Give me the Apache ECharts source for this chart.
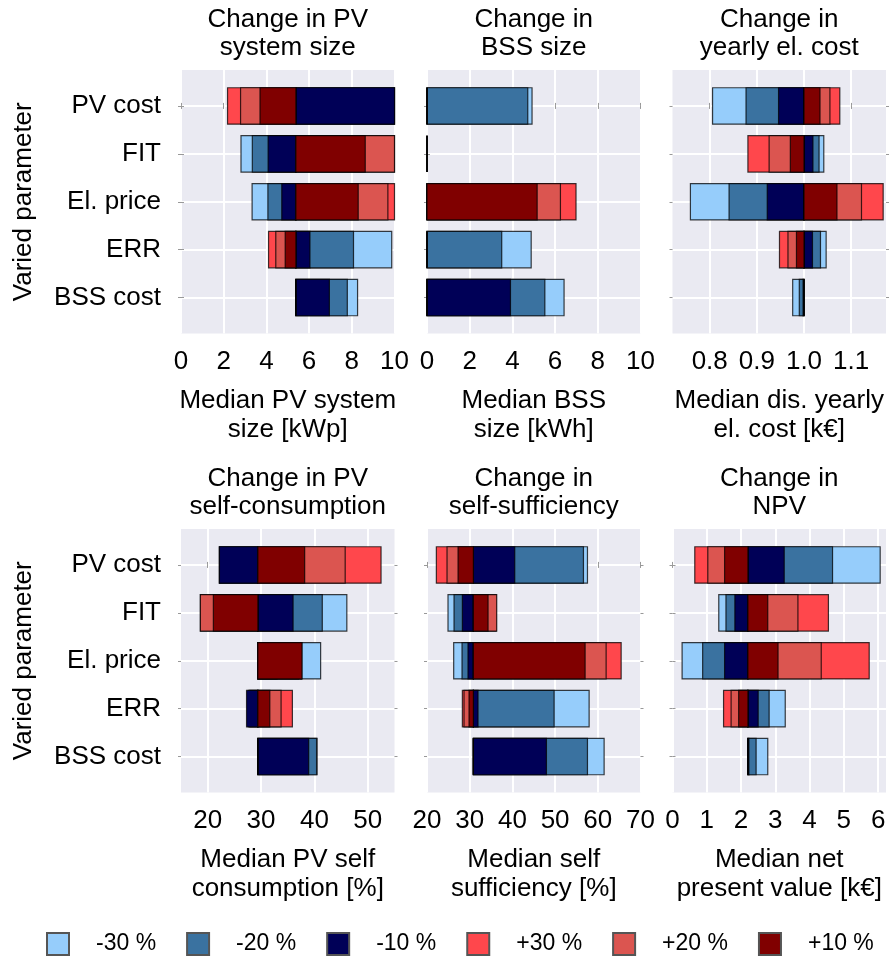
<!DOCTYPE html>
<html>
<head>
<meta charset="utf-8">
<script src="https://cdn.jsdelivr.net/npm/echarts@6/dist/echarts.min.js"></script>
<style>
html, body { margin: 0; padding: 0; background: #fff; }
#chart { width: 889px; height: 958px; }
</style>
</head>
<body>
<div id="chart"></div>
<script>
var categories = ['PV cost', 'FIT', 'El. price', 'ERR', 'BSS cost'];
var variations = ['-30 %', '-20 %', '-10 %', '+30 %', '+20 %', '+10 %'];
var colors = ['#96CDFB', '#3A72A0', '#000057', '#FF474C', '#DB5550', '#800000'];

/* PV system size [kWp] */
var pvSizeBase = 5.38;
var pvSizeM30 = [13.5, 2.81, 3.33, 9.87, 8.27];
var pvSizeM20 = [12.0, 3.34, 4.07, 8.08, 7.79];
var pvSizeM10 = [10.8, 4.08, 4.72, 6.04, 6.95];
var pvSizeP30 = [2.18, 11.2, 10.0, 4.10, 5.38];
var pvSizeP20 = [2.79, 10.6, 9.69, 4.44, 5.38];
var pvSizeP10 = [3.70, 8.63, 8.30, 4.88, 5.38];

/* BSS size [kWh] */
var bssSizeBase = 0;
var bssSizeM30 = [4.92, 0, 0, 4.88, 6.42];
var bssSizeM20 = [4.72, 0, 0, 3.50, 5.52];
var bssSizeM10 = [0, 0, 0, 0, 3.91];
var bssSizeP30 = [0, 0, 6.98, 0, 0];
var bssSizeP20 = [0, 0, 6.25, 0, 0];
var bssSizeP10 = [0, 0, 5.16, 0, 0];

/* discounted yearly el. cost [k€] */
var elCostBase = 1.0;
var elCostM30 = [0.806, 1.042, 0.759, 1.047, 0.976];
var elCostM20 = [0.877, 1.032, 0.841, 1.035, 0.990];
var elCostM10 = [0.946, 1.019, 0.922, 1.018, 0.998];
var elCostP30 = [1.076, 0.881, 1.168, 0.948, 1.0];
var elCostP20 = [1.055, 0.926, 1.122, 0.966, 1.0];
var elCostP10 = [1.034, 0.971, 1.070, 0.984, 1.0];

/* PV self consumption [%] */
var selfConsBase = 29.4;
var selfConsM30 = [22.2, 46.07, 41.16, 27.9, 40.5];
var selfConsM20 = [22.2, 41.47, 37.0, 27.6, 40.4];
var selfConsM10 = [22.2, 36.0, 33.0, 27.28, 38.92];
var selfConsP30 = [52.48, 18.63, 37.6, 35.87, 29.4];
var selfConsP20 = [45.76, 18.63, 37.6, 33.75, 29.4];
var selfConsP10 = [38.17, 21.06, 37.67, 31.64, 29.4];

/* self sufficiency [%] */
var selfSuffBase = 30.86;
var selfSuffM30 = [57.58, 24.92, 26.25, 57.97, 61.48];
var selfSuffM20 = [56.64, 26.33, 28.2, 49.77, 57.58];
var selfSuffM10 = [40.55, 28.28, 29.6, 31.95, 47.97];
var selfSuffP30 = [22.19, 36.2, 65.47, 28.28, 30.86];
var selfSuffP20 = [24.69, 36.33, 61.95, 28.67, 30.86];
var selfSuffP10 = [27.27, 34.3, 57.03, 29.84, 30.86];

/* net present value [k€] */
var npvBase = 2.20;
var npvM30 = [6.06, 1.35, 0.28, 3.29, 2.78];
var npvM20 = [4.67, 1.56, 0.88, 2.82, 2.44];
var npvM10 = [3.26, 1.82, 1.52, 2.50, 2.23];
var npvP30 = [0.65, 4.55, 5.74, 1.49, 2.20];
var npvP20 = [1.03, 3.66, 4.34, 1.71, 2.20];
var npvP10 = [1.52, 2.78, 3.08, 1.93, 2.20];

/* axes */
var pvSizeTicks = [0, 2, 4, 6, 8, 10];
var bssSizeTicks = [0, 2, 4, 6, 8, 10];
var elCostTicks = [0.8, 0.9, 1.0, 1.1];
var selfConsTicks = [20, 30, 40, 50];
var selfSuffTicks = [20, 30, 40, 50, 60, 70];
var npvTicks = [0, 1, 2, 3, 4, 5, 6];
var catIndex = [0, 1, 2, 3, 4];

var panels = [
    {title: 'Change in PV\nsystem size', name: 'Median PV system\nsize [kWp]', base: pvSizeBase,
        values: [pvSizeM30, pvSizeM20, pvSizeM10, pvSizeP30, pvSizeP20, pvSizeP10],
        min: 0, max: 10, ticks: pvSizeTicks, digits: 0},
    {title: 'Change in\nBSS size', name: 'Median BSS\nsize [kWh]', base: bssSizeBase,
        values: [bssSizeM30, bssSizeM20, bssSizeM10, bssSizeP30, bssSizeP20, bssSizeP10],
        min: 0, max: 10, ticks: bssSizeTicks, digits: 0},
    {title: 'Change in\nyearly el. cost', name: 'Median dis. yearly\nel. cost [k€]', base: elCostBase,
        values: [elCostM30, elCostM20, elCostM10, elCostP30, elCostP20, elCostP10],
        min: 0.721, max: 1.174, ticks: elCostTicks, digits: 1},
    {title: 'Change in PV\nself-consumption', name: 'Median PV self\nconsumption [%]', base: selfConsBase,
        values: [selfConsM30, selfConsM20, selfConsM10, selfConsP30, selfConsP20, selfConsP10],
        min: 15, max: 55, ticks: selfConsTicks, digits: 0},
    {title: 'Change in\nself-sufficiency', name: 'Median self\nsufficiency [%]', base: selfSuffBase,
        values: [selfSuffM30, selfSuffM20, selfSuffM10, selfSuffP30, selfSuffP20, selfSuffP10],
        min: 20, max: 70, ticks: selfSuffTicks, digits: 0},
    {title: 'Change in\nNPV', name: 'Median net\npresent value [k€]', base: npvBase,
        values: [npvM30, npvM20, npvM10, npvP30, npvP20, npvP10],
        min: 0, max: 6.23, ticks: npvTicks, digits: 0}
];

var FONT = 'Liberation Sans, Arial, sans-serif';
var colLeft = [181, 427, 672.5];
var plotW = 213.5;
var rowTop = [70, 529];
var plotH = 263.5;
var barH = 0.76;

function renderBar(params, api) {
    var y = api.value(0);
    var p0 = api.coord([api.value(1), y]);
    var p1 = api.coord([api.value(2), y]);
    var h = api.size([0, barH])[1];
    var cs = params.coordSys;
    var rect = echarts.graphic.clipRectByRect({
        x: Math.min(p0[0], p1[0]),
        y: p0[1] - h / 2,
        width: Math.abs(p1[0] - p0[0]),
        height: h
    }, {x: cs.x, y: cs.y, width: cs.width, height: cs.height});
    if (!rect) return;
    return {
        type: 'rect',
        shape: rect,
        style: {fill: api.visual('color'), stroke: 'rgba(0,0,0,0.75)', lineWidth: 1.2}
    };
}

var grids = [], xAxes = [], yAxes = [], series = [], texts = [];
var tickStyle = {color: '#999', width: 1};

panels.forEach(function (p, k) {
    var col = k % 3, row = Math.floor(k / 3);
    var left = colLeft[col], top = rowTop[row];
    grids.push({left: left, top: top, width: plotW, height: plotH, show: true,
        backgroundColor: '#EAEAF2', borderWidth: 0});

    xAxes.push({gridIndex: k, type: 'value', position: 'bottom', min: p.min, max: p.max,
        axisLine: {show: false},
        axisTick: {show: true, length: 3, lineStyle: tickStyle, customValues: p.ticks},
        axisLabel: {customValues: p.ticks, fontSize: 26, color: '#000', margin: 15, fontFamily: FONT,
            formatter: (function (d) { return function (v) { return v.toFixed(d); }; })(p.digits)},
        splitLine: {show: true, lineStyle: {color: '#fff', width: 2}}});
    xAxes.push({gridIndex: k, type: 'value', position: 'top', min: p.min, max: p.max,
        axisLine: {show: false},
        axisTick: {show: true, length: 3, lineStyle: tickStyle, customValues: p.ticks},
        axisLabel: {show: false}, splitLine: {show: false}});

    yAxes.push({gridIndex: k, type: 'value', position: 'left', min: -0.75, max: 4.75, inverse: true,
        axisLine: {show: false},
        axisTick: {show: true, length: 3, lineStyle: tickStyle, customValues: catIndex},
        axisLabel: {show: col === 0, customValues: catIndex, fontSize: 26, color: '#000', margin: 20,
            fontFamily: FONT, formatter: function (v) { return categories[Math.round(v)]; }},
        splitLine: {show: true, lineStyle: {color: '#fff', width: 2}}});
    yAxes.push({gridIndex: k, type: 'value', position: 'right', min: -0.75, max: 4.75, inverse: true,
        axisLine: {show: false},
        axisTick: {show: true, length: 3, lineStyle: tickStyle, customValues: catIndex},
        axisLabel: {show: false}, splitLine: {show: false}});

    variations.forEach(function (name, j) {
        series.push({
            type: 'custom', name: name,
            xAxisIndex: 2 * k, yAxisIndex: 2 * k,
            renderItem: renderBar,
            encode: {x: [1, 2], y: 0},
            itemStyle: {color: colors[j], borderColor: '#555', borderWidth: 1},
            data: catIndex.map(function (i) { return [i, p.base, p.values[j][i]]; })
        });
    });

    var cx = left + plotW / 2;
    texts.push({type: 'text', x: cx, y: top - 36, style: {text: p.title, fontSize: 26, lineHeight: 28,
        fontFamily: FONT, fill: '#000', align: 'center', verticalAlign: 'middle',
        textAlign: 'center', textVerticalAlign: 'middle'}});
    texts.push({type: 'text', x: cx, y: top + 345.5, style: {text: p.name, fontSize: 26, lineHeight: 29,
        fontFamily: FONT, fill: '#000', align: 'center', verticalAlign: 'middle',
        textAlign: 'center', textVerticalAlign: 'middle'}});
});

rowTop.forEach(function (top) {
    texts.push({type: 'text', x: 24, y: top + plotH / 2, rotation: Math.PI / 2,
        style: {text: 'Varied parameter', fontSize: 26, fontFamily: FONT, fill: '#000',
            align: 'center', verticalAlign: 'middle', textAlign: 'center', textVerticalAlign: 'middle'}});
});

var chart = echarts.init(document.getElementById('chart'));
chart.setOption({
    animation: false,
    textStyle: {fontFamily: FONT},
    grid: grids,
    xAxis: xAxes,
    yAxis: yAxes,
    legend: {
        data: variations, left: 46, top: 932, padding: 0, width: 1200, icon: 'rect',
        itemWidth: 22, itemHeight: 22, itemGap: 30,
        textStyle: {fontSize: 23, color: '#000', fontFamily: FONT, padding: [0, 0, 0, 22]}
    },
    graphic: texts,
    series: series
});
</script>
</body>
</html>
